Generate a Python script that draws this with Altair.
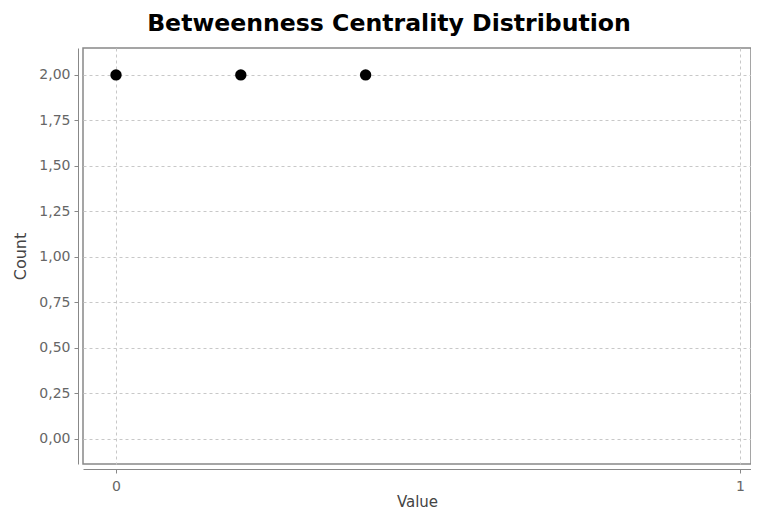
import altair as alt
import pandas as pd

values = [0.0, 0.2, 0.4]
counts = [2, 2, 2]
y_ticks = [0, 0.25, 0.5, 0.75, 1.0, 1.25, 1.5, 1.75, 2.0]
x_ticks = [0, 1]

df = pd.DataFrame({"Value": values, "Count": counts})

chart = alt.Chart(df).mark_circle(size=130, color="black", opacity=1).encode(
    x=alt.X("Value:Q",
            scale=alt.Scale(domain=[-0.0529, 1.0176], nice=False, zero=False),
            axis=alt.Axis(values=x_ticks, title="Value", format="d", offset=5,
                          gridDash=[3, 3], gridColor="#c8c8c8",
                          domainColor="#888", tickColor="#888", tickSize=4,
                          labelColor="#666", labelFontSize=14, labelFont="DejaVu Sans",
                          titleColor="#444", titleFontSize=15, titleFont="DejaVu Sans",
                          titleFontWeight="normal", labelPadding=6, titlePadding=1)),
    y=alt.Y("Count:Q",
            scale=alt.Scale(domain=[-0.14, 2.148], nice=False, zero=False),
            axis=alt.Axis(values=y_ticks, title="Count", offset=5,
                          labelExpr="replace(format(datum.value, '.2f'), '.', ',')",
                          gridDash=[3, 3], gridColor="#c8c8c8",
                          domainColor="#888", tickColor="#888", tickSize=4,
                          labelColor="#666", labelFontSize=14, labelFont="DejaVu Sans",
                          titleColor="#444", titleFontSize=16, titleFont="DejaVu Sans",
                          titleFontWeight="normal", labelPadding=4, titlePadding=10))
).properties(
    width=668,
    height=416,
    autosize=alt.AutoSizeParams(type="none"),
    padding={"left": 75, "top": 40, "right": 0, "bottom": 50},
    title=alt.Title("Betweenness Centrality Distribution", fontSize=23.6,
                    font="DejaVu Sans", fontWeight="bold", color="black",
                    dx=-28, offset=12),
).configure_view(stroke="#888", strokeWidth=1.5)

chart.save("out.html", embed_options={"renderer": "svg", "actions": False})
